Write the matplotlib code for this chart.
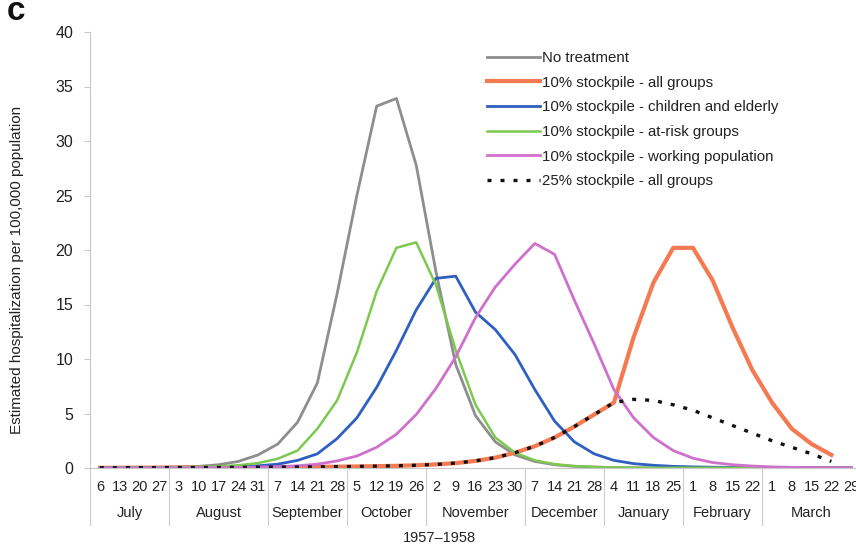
import matplotlib
matplotlib.use("Agg")
import matplotlib.pyplot as plt
import matplotlib.transforms as mtransforms

plt.rcParams['font.family'] = ['Liberation Sans', 'DejaVu Sans']

# week labels (Sunday dates) grouped by month, 1957-1958
months = ["July", "August", "September", "October", "November",
          "December", "January", "February", "March"]
month_days = [
    [6, 13, 20, 27],
    [3, 10, 17, 24, 31],
    [7, 14, 21, 28],
    [5, 12, 19, 26],
    [2, 9, 16, 23, 30],
    [7, 14, 21, 28],
    [4, 11, 18, 25],
    [1, 8, 15, 22],
    [1, 8, 15, 22, 29],
]

# estimated hospitalization per 100,000 population, one value per week
no_treatment = [0.02, 0.03, 0.05, 0.07, 0.1, 0.15, 0.3, 0.6, 1.2, 2.2,
                4.2, 7.8, 16.0, 25.0, 33.2, 33.9, 27.8, 18.0, 9.5, 4.8,
                2.4, 1.2, 0.6, 0.3, 0.15, 0.08, 0.04, 0.02, 0.02, 0.02,
                0.02, 0.02, 0.02, 0.02, 0.02, 0.02, 0.02, 0.02, 0.02]
all_groups_10 = [0.02, 0.02, 0.03, 0.03, 0.04, 0.04, 0.05, 0.06, 0.07, 0.08,
                 0.09, 0.1, 0.12, 0.14, 0.17, 0.2, 0.25, 0.33, 0.45, 0.65,
                 0.95, 1.4, 2.0, 2.8, 3.8, 4.9, 6.0, 12.0, 17.0, 20.2,
                 20.2, 17.2, 12.9, 9.0, 6.0, 3.6, 2.2, 1.2]
children_elderly = [0.01, 0.01, 0.02, 0.03, 0.04, 0.06, 0.08, 0.12, 0.2, 0.35,
                    0.7, 1.3, 2.7, 4.6, 7.4, 10.8, 14.5, 17.4, 17.6, 14.3,
                    12.7, 10.4, 7.2, 4.3, 2.4, 1.3, 0.7, 0.4, 0.25, 0.15,
                    0.1, 0.07, 0.05, 0.04, 0.03, 0.03, 0.02, 0.02, 0.02]
at_risk = [0.02, 0.02, 0.03, 0.05, 0.07, 0.1, 0.15, 0.25, 0.45, 0.85,
           1.6, 3.6, 6.2, 10.6, 16.2, 20.2, 20.7, 16.8, 10.8, 5.8,
           2.8, 1.4, 0.7, 0.35, 0.18, 0.1, 0.05, 0.03, 0.02, 0.02,
           0.02, 0.02, 0.02, 0.02, 0.02, 0.02, 0.02, 0.02, 0.02]
working_pop = [0.01, 0.01, 0.01, 0.02, 0.02, 0.03, 0.04, 0.06, 0.08, 0.12,
               0.2, 0.35, 0.65, 1.1, 1.9, 3.1, 4.9, 7.3, 10.2, 13.8,
               16.6, 18.7, 20.6, 19.6, 15.4, 11.4, 7.2, 4.6, 2.8, 1.6,
               0.9, 0.5, 0.3, 0.18, 0.1, 0.06, 0.04, 0.03, 0.02]
all_groups_25 = [0.02, 0.02, 0.03, 0.03, 0.04, 0.04, 0.05, 0.06, 0.07, 0.08,
                 0.09, 0.1, 0.12, 0.14, 0.17, 0.2, 0.25, 0.33, 0.45, 0.65,
                 0.95, 1.4, 2.0, 2.8, 3.8, 4.9, 6.0, 6.3, 6.2, 5.8,
                 5.3, 4.6, 3.9, 3.2, 2.5, 1.9, 1.3, 0.6]

week_labels = [str(d) for days in month_days for d in days]
n_weeks = len(week_labels)
txt = "#222222"

fig = plt.figure(figsize=(8.56, 5.48), dpi=100)
ax = fig.add_axes([90 / 856, 80 / 548, (861 - 90) / 856, 436 / 548])

ax.plot(range(len(no_treatment)), no_treatment, color="#8e8e8e", lw=2.0,
        label="No treatment")
ax.plot(range(len(all_groups_10)), all_groups_10, color="#f57a52", lw=3.0,
        label="10% stockpile - all groups")
ax.plot(range(len(children_elderly)), children_elderly, color="#2f5fc0", lw=2.0,
        label="10% stockpile - children and elderly")
ax.plot(range(len(at_risk)), at_risk, color="#7dc850", lw=1.8,
        label="10% stockpile - at-risk groups")
ax.plot(range(len(working_pop)), working_pop, color="#cf70cc", lw=2.0,
        label="10% stockpile - working population")
ax.plot(range(len(all_groups_25)), all_groups_25, color="#111111", lw=2.4,
        linestyle=(0, (1.2, 2.7)), label="25% stockpile - all groups")

ax.set_xlim(-0.5, n_weeks - 0.5)
ax.set_ylim(0, 40)
ax.set_yticks(range(0, 41, 5))
ax.tick_params(axis="y", direction="out", length=4, color="#c8c8c8",
               labelsize=11.5, labelcolor=txt, pad=8)
ax.set_xticks([])
for s in ["top", "right"]:
    ax.spines[s].set_visible(False)
for s in ["left", "bottom"]:
    ax.spines[s].set_color("#c8c8c8")

# two-level category axis: weeks, then months
trans = mtransforms.blended_transform_factory(ax.transData, ax.transAxes)
for i, lab in enumerate(week_labels):
    ax.text(i, -0.044, lab, transform=trans, ha="center", va="center",
            fontsize=10.5, color=txt, clip_on=False)
start = 0
for name, days in zip(months, month_days):
    end = start + len(days)
    ax.plot([start - 0.5, start - 0.5], [0, -0.131], transform=trans,
            color="#cccccc", lw=0.8, clip_on=False)
    ax.text((start + end - 1) / 2, -0.104, name, transform=trans,
            ha="center", va="center", fontsize=10.5, color=txt)
    start = end
ax.text(17.2, -0.160, "1957\u20131958", transform=trans, ha="center",
        va="center", fontsize=10.5, color=txt)

fig.text(17 / 856, 1 - 270 / 548, "Estimated hospitalization per 100,000 population",
         rotation=90, ha="center", va="center", fontsize=11, color=txt)
fig.text(16 / 856, 1 - 12 / 548, "c", fontsize=24, fontweight="bold",
         ha="center", va="center", color="#111111")

ax.legend(loc="upper left", bbox_to_anchor=(487 / 856, 1 - 51 / 548),
          bbox_transform=fig.transFigure, frameon=False, fontsize=10.8,
          handlelength=3.5, handletextpad=0.2, labelspacing=0.71,
          borderpad=0, borderaxespad=0, labelcolor=txt)

fig.savefig("out.png", dpi=100, facecolor="white")
